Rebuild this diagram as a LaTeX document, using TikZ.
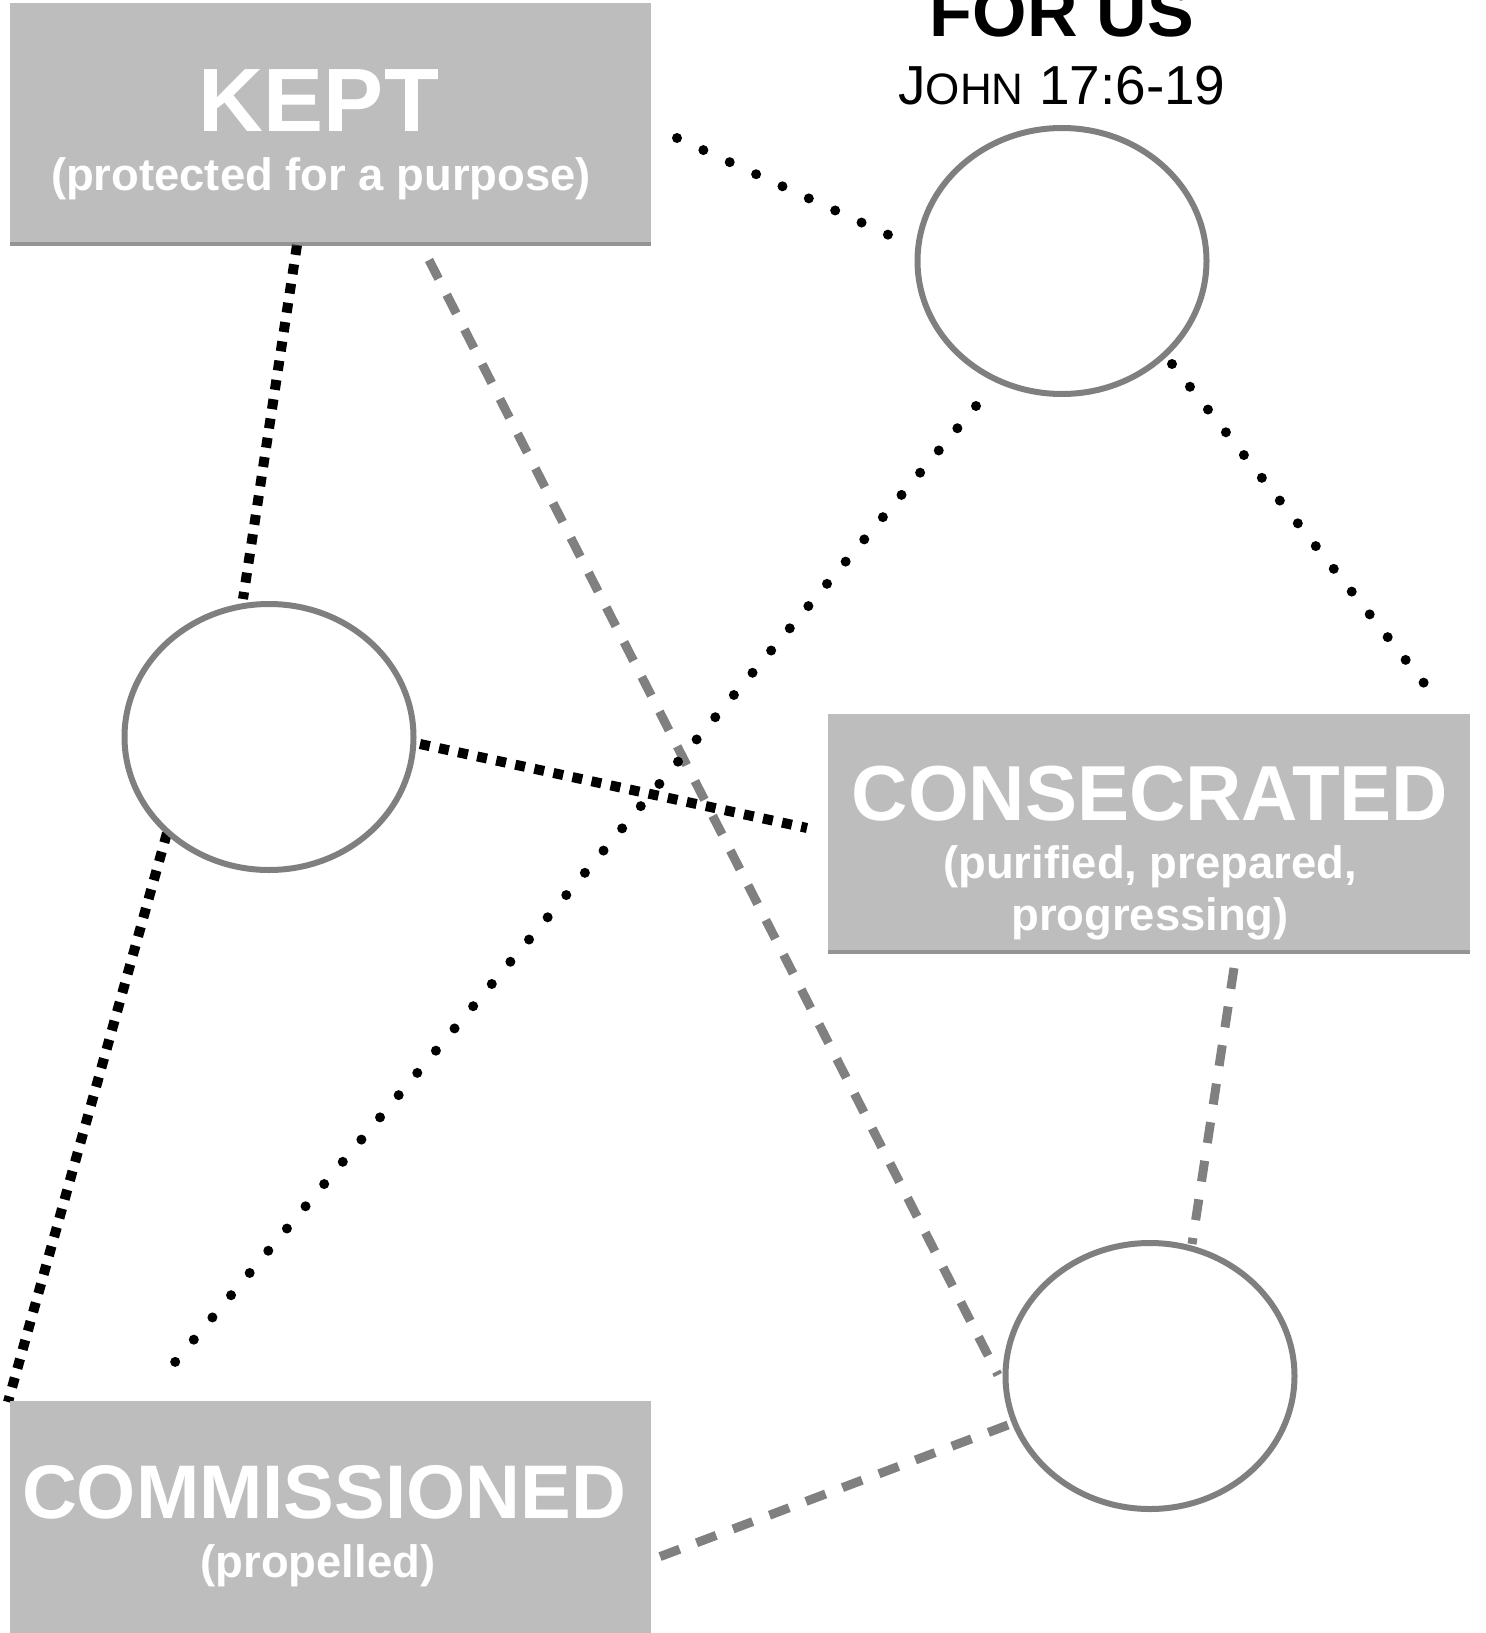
\documentclass[tikz,border=0pt]{standalone}
\usepackage{fontspec}
\setmainfont{Liberation Sans}
\usetikzlibrary{shapes.geometric,shadows,backgrounds}
\definecolor{boxgray}{HTML}{BDBDBD}
\definecolor{ringgray}{HTML}{7F7F7F}
\definecolor{dashgray}{HTML}{808080}
\begin{document}
\begin{tikzpicture}[x=0.5pt,y=-0.5pt,
  boxst/.style={fill=boxgray,draw=none,inner sep=0pt,
    drop shadow={shadow xshift=0pt,shadow yshift=-2pt,opacity=0.6,fill=black!70}},
  ring/.style={ellipse,draw=ringgray,line width=3pt,fill=white,inner sep=0pt,
    minimum width=144.5pt,minimum height=133pt,
    drop shadow={shadow xshift=0pt,shadow yshift=-1pt,opacity=0.2}},
  bigword/.style={text=white,font=\bfseries\fontsize{39}{39}\selectfont,anchor=base,inner sep=0pt},
  smallword/.style={text=white,font=\bfseries\fontsize{22.7}{22.7}\selectfont,anchor=base,inner sep=0pt},
  sqdot/.style={black,line width=5pt,dash pattern=on 5pt off 4.75pt},
  rddot/.style={black,line width=5pt,line cap=round,dash pattern=on 0pt off 14.5pt},
  gdash/.style={dashgray,line width=4.5pt,dash pattern=on 10.5pt off 9pt}
]
\useasboundingbox (0,0) rectangle (1485,1633);

% boxes
\node[boxst,minimum width=320.5pt,minimum height=119.5pt] (kept) at (330.5,122.5) {};
\node[boxst,minimum width=321pt,minimum height=118pt] (cons) at (1149,832) {};
\node[boxst,minimum width=320.5pt,minimum height=129.5pt] (comm) at (330.5,1530.5) {};

% circles
\node[ring] (c1) at (1062,261) {};
\node[ring] (c2) at (269,737) {};
\node[ring] (c3) at (1150,1376) {};

% texts
\node[text=black,font=\bfseries\fontsize{35}{35}\selectfont,anchor=base,inner sep=0pt] (forus) at (1062,36) {FOR US};
\node[text=black,font=\fontsize{27.5}{27.5}\selectfont,anchor=base,inner sep=0pt] (john) at (1062,104) {J{\fontsize{22}{22}\selectfont OHN} 17:6-19};

\node[bigword,font=\bfseries\fontsize{45}{45}\selectfont] (keptt) at (319,131) {KEPT};
\node[smallword] (kepts) at (321,190) {(protected for a purpose)};

\node[bigword] (const) at (1150,820) {CONSECRATED};
\node[smallword] (conss1) at (1150,878) {(purified, prepared,};
\node[smallword] (conss2) at (1150,930) {progressing)};

\node[bigword,font=\bfseries\fontsize{38}{38}\selectfont] (commt) at (324,1518) {COMMISSIONED};
\node[smallword] (comms) at (318,1577) {(propelled)};

% connector end points
\coordinate (kb1) at (297,245);
\coordinate (c2t) at (243,599);
\coordinate (c2r) at (420,744);
\coordinate (consl) at (807,828);
\coordinate (c2bl) at (167,833);
\coordinate (commtl) at (8,1402);
\coordinate (kb2) at (429,260);
\coordinate (c3l) at (998,1375);
\coordinate (consb) at (1234,968);
\coordinate (c3t) at (1192,1244);
\coordinate (c3bl) at (1008,1425);
\coordinate (commr) at (651,1560);
\coordinate (keptr) at (677,138);
\coordinate (c1l) at (904,242);
\coordinate (c1br) at (1172,364);
\coordinate (consrt) at (1431,692);
\coordinate (c1bl) at (976,406);
\coordinate (commt2) at (160,1380);

\begin{scope}[on background layer]
\draw[sqdot] (kb1) -- (c2t);
\draw[sqdot] (c2r) -- (consl);
\draw[sqdot] (c2bl) -- (commtl);
\draw[gdash] (kb2) -- (c3l);
\draw[gdash] (consb) -- (c3t);
\draw[gdash] (c3bl) -- (commr);
\draw[rddot] (keptr) -- (c1l);
\draw[rddot] (c1br) -- (consrt);
\draw[rddot] (c1bl) -- (commt2);
\end{scope}
\end{tikzpicture}
\end{document}
